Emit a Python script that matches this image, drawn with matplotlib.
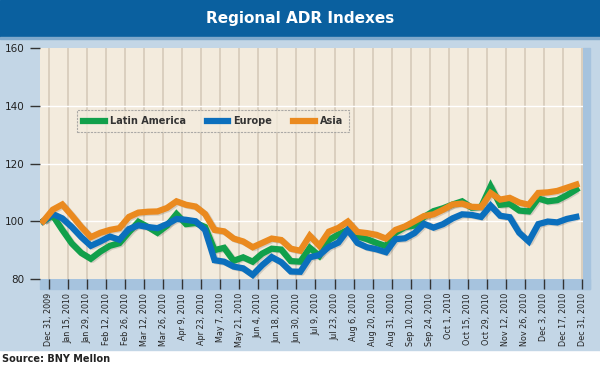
import matplotlib
matplotlib.use("Agg")
import matplotlib.pyplot as plt
from matplotlib.patches import Rectangle
import numpy as np

# tick labels (every two weeks)
tick_labels = [
    "Dec 31, 2009", "Jan 15, 2010", "Jan 29, 2010", "Feb 12, 2010", "Feb 26, 2010",
    "Mar 12, 2010", "Mar 26, 2010", "Apr 9, 2010", "Apr 23, 2010", "May 7, 2010",
    "May 21, 2010", "Jun 4, 2010", "Jun 18, 2010", "Jun 30, 2010", "Jul 9, 2010",
    "Jul 23, 2010", "Aug 6, 2010", "Aug 20, 2010", "Aug 31, 2010", "Sep 10, 2010",
    "Sep 24, 2010", "Oct 1, 2010", "Oct 15, 2010", "Oct 29, 2010", "Nov 12, 2010",
    "Nov 26, 2010", "Dec 3, 2010", "Dec 17, 2010", "Dec 31, 2010",
]

# weekly index values
latin_america = [
    100, 102, 97, 92.3, 89, 87, 89.5, 91.5, 92.4, 96.2,
    99.8, 98, 96, 98.5, 102.5, 99, 99.4, 98, 90, 90.8,
    86.3, 87.5, 86, 88.8, 90.5, 90.2, 86.2, 86, 90.8, 88,
    93.5, 95.4, 97, 94.8, 93.8, 92.5, 91.4, 96, 98, 98.5,
    101.5, 103.5, 104.5, 105.8, 106.9, 104.7, 105, 112.1, 105.7, 106,
    103.7, 103.4, 107.9, 106.9, 107.3, 109, 111,
]
europe = [
    100, 102.5, 101, 98, 94.5, 91.5, 93, 94.7, 93.6, 97.3,
    98.6, 98, 97.6, 99, 100.8, 100.5, 100, 97, 86.5, 86,
    84.3, 83.7, 81.4, 84.8, 87.6, 85.8, 82.6, 82.5, 87.5, 88.3,
    91.1, 92.6, 97, 92.5, 91, 90.3, 89.3, 93.8, 94.1, 95.9,
    99.1, 97.8, 99, 101, 102.4, 102.2, 101.5, 105.4, 101.9, 101.4,
    96, 93, 99, 99.9, 99.6, 100.8, 101.5,
]
asia = [
    100, 104, 105.8, 102, 98, 94.5, 96, 97, 97.6, 101.5,
    103, 103.3, 103.4, 104.6, 106.9, 105.7, 105.1, 102.5, 97, 96.5,
    94, 93, 91, 92.5, 94, 93.5, 90.5, 89.8, 95, 91.5,
    96.4, 97.7, 99.9, 96.3, 95.9, 95.3, 94, 97, 98.2, 100,
    101.8, 102.4, 104, 105.8, 106.1, 105, 104.9, 109.8, 107.5, 108.1,
    106.5, 105.7, 109.8, 110, 110.5, 111.6, 112.7,
]

green = "#11a04b"
blue = "#0b6fbd"
orange = "#ea8a1f"
panel_bg = "#c3d6e6"
strip = "#a6c3de"

W, H = 600, 370
fig = plt.figure(figsize=(6, 3.7), dpi=100)
fig.patch.set_facecolor("white")

def fx(px):
    return px / W

def fy(py):
    return 1 - py / H

# background panel + title band
fig.patches.append(Rectangle((0, fy(350)), 1, fy(37) - fy(350), transform=fig.transFigure,
                             color=panel_bg, zorder=-3))
fig.patches.append(Rectangle((0, fy(37)), 1, 1 - fy(37), transform=fig.transFigure,
                             color="#0a609f", zorder=-3))
fig.patches.append(Rectangle((0, fy(39)), 1, fy(37) - fy(39), transform=fig.transFigure,
                             color="#7fa9cc", zorder=-2))
# shadow strips right and below plot
fig.patches.append(Rectangle((fx(583), fy(289)), fx(7), fy(48) - fy(289), transform=fig.transFigure,
                             color=strip, zorder=-2))
fig.patches.append(Rectangle((fx(40), fy(289)), fx(550), fy(279) - fy(289), transform=fig.transFigure,
                             color=strip, zorder=-2))

fig.text(0.5, fy(18), "Regional ADR Indexes", color="white", fontsize=11,
         fontweight="bold", ha="center", va="center")
fig.text(fx(2), fy(359), "Source: BNY Mellon", fontsize=7, color="#222222",
         fontweight="bold", ha="left", va="center")

ax = fig.add_axes([fx(40), fy(279), fx(543), fy(48) - fy(279)])
ax.set_facecolor("#f3ebdd")

n = len(asia)
x = -0.3 + 0.5 * np.arange(n)

for s, c, lab in [(latin_america, green, "Latin America"), (europe, blue, "Europe"), (asia, orange, "Asia")]:
    ax.plot(x + 0.08, np.array(s) - 0.35, color="#00000022", lw=4.5, solid_capstyle="butt", zorder=2)
    ax.plot(x, s, color=c, lw=4.5, label=lab, solid_joinstyle="miter", zorder=3)

ax.set_ylim(80, 160)
ax.set_xlim(-0.47, 28.05)
ax.set_yticks([80, 100, 120, 140, 160])
ax.set_xticks(np.arange(len(tick_labels)))
ax.set_xticklabels(tick_labels, rotation=90, fontsize=5.8, color="#222222")
for lbl in ax.get_yticklabels():
    lbl.set_fontsize(7.5)
    lbl.set_color("#222222")
ax.tick_params(axis="y", length=7, width=1, color="#333333", pad=4)
ax.tick_params(axis="x", length=7, width=1, color="#333333", pad=3)

for k in range(len(tick_labels)):
    ax.axvline(k, color="#d6cab9", lw=1.2, zorder=1)
for v in [100, 120, 140]:
    ax.axhline(v, color="white", lw=1, zorder=1)
for sp in ax.spines.values():
    sp.set_visible(False)

leg = ax.legend(loc="center left", bbox_to_anchor=(0.06, 0.684), ncol=3, frameon=True,
                fontsize=7, handlelength=2.2, handleheight=0.6, columnspacing=2.2,
                borderpad=0.6, handletextpad=0.5, fancybox=False)
leg.get_frame().set_facecolor("#f3ebdd")
leg.get_frame().set_edgecolor("#999999")
leg.get_frame().set_linestyle((0, (2, 1)))
leg.get_frame().set_linewidth(0.8)
for t in leg.get_texts():
    t.set_fontweight("bold")
    t.set_color("#333333")

fig.savefig("out.png", dpi=100)
